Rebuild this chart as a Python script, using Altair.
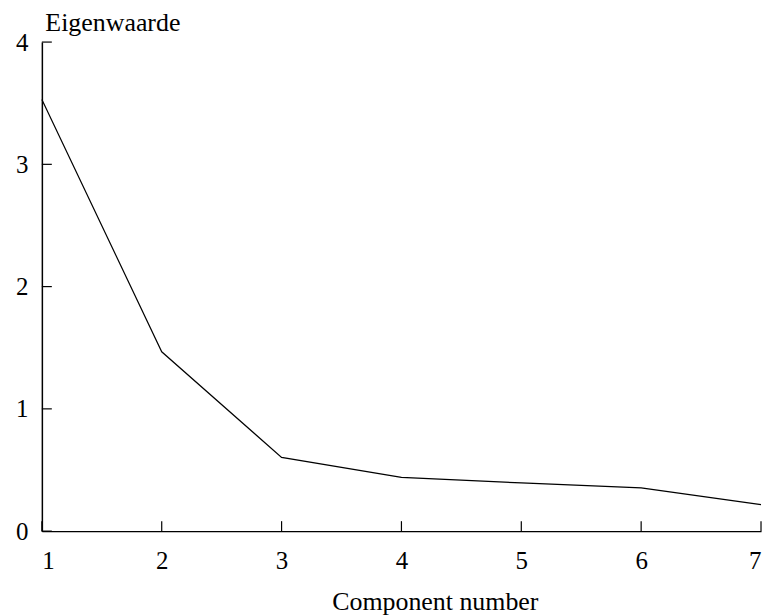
import altair as alt
import pandas as pd

components = [1, 2, 3, 4, 5, 6, 7]
eigenvalues = [3.53, 1.467, 0.603, 0.44, 0.394, 0.353, 0.217]
y_ticks = [0, 1, 2, 3, 4]
x_ticks = [1, 2, 3, 4, 5, 6, 7]

W, H = 722, 491
FONT = "'Times New Roman', 'Liberation Serif', 'DejaVu Serif', serif"
FS = 25

df = pd.DataFrame({"c": components, "e": eigenvalues})
ydf = pd.DataFrame({"v": y_ticks})
xdf = pd.DataFrame({"v": x_ticks})

xscale = alt.Scale(domain=[1, 7], nice=False, zero=False)
yscale = alt.Scale(domain=[0, 4], nice=False)

line = alt.Chart(df).mark_line(color="black", strokeWidth=1.2).encode(
    x=alt.X("c:Q", scale=xscale, axis=alt.Axis(
        values=x_ticks, format="d", tickSize=0, grid=False,
        domainColor="black", domainWidth=1.5,
        labelFont=FONT, labelFontSize=FS, labelColor="black", labelPadding=18,
        title="Component number", titleFont=FONT, titleFontSize=FS + 1,
        titleFontWeight="normal", titleColor="black",
        titleAlign="left", titleBaseline="alphabetic", titleX=291, titleY=79,
    )),
    y=alt.Y("e:Q", scale=yscale, axis=alt.Axis(
        values=y_ticks, format="d", tickSize=0, grid=False,
        domainColor="black", domainWidth=1.5,
        labelFont=FONT, labelFontSize=FS, labelColor="black", labelPadding=14,
        labelBaseline="middle",
        title="Eigenwaarde", titleFont=FONT, titleFontSize=FS + 1,
        titleFontWeight="normal", titleColor="black", titleAngle=0,
        titleAlign="left", titleBaseline="alphabetic", titleX=3, titleY=-12,
    )),
)

yt = alt.Chart(ydf).mark_rule(color="black", strokeWidth=1.2).encode(
    y=alt.Y("v:Q", scale=yscale),
    x=alt.value(0), x2=alt.value(10),
)
xt = alt.Chart(xdf).mark_rule(color="black", strokeWidth=1.2).encode(
    x=alt.X("v:Q", scale=xscale),
    y=alt.value(H - 10), y2=alt.value(H),
)

chart = alt.layer(line, yt, xt).properties(
    width=W, height=H,
    autosize=alt.AutoSizeParams(type="none"),
    padding={"left": 34, "top": 33, "right": 2, "bottom": 84},
).configure(
    background="white",
    view=alt.ViewConfig(strokeWidth=0, strokeOpacity=0),
)

chart.save("out.html", embed_options={"renderer": "svg", "actions": False})
